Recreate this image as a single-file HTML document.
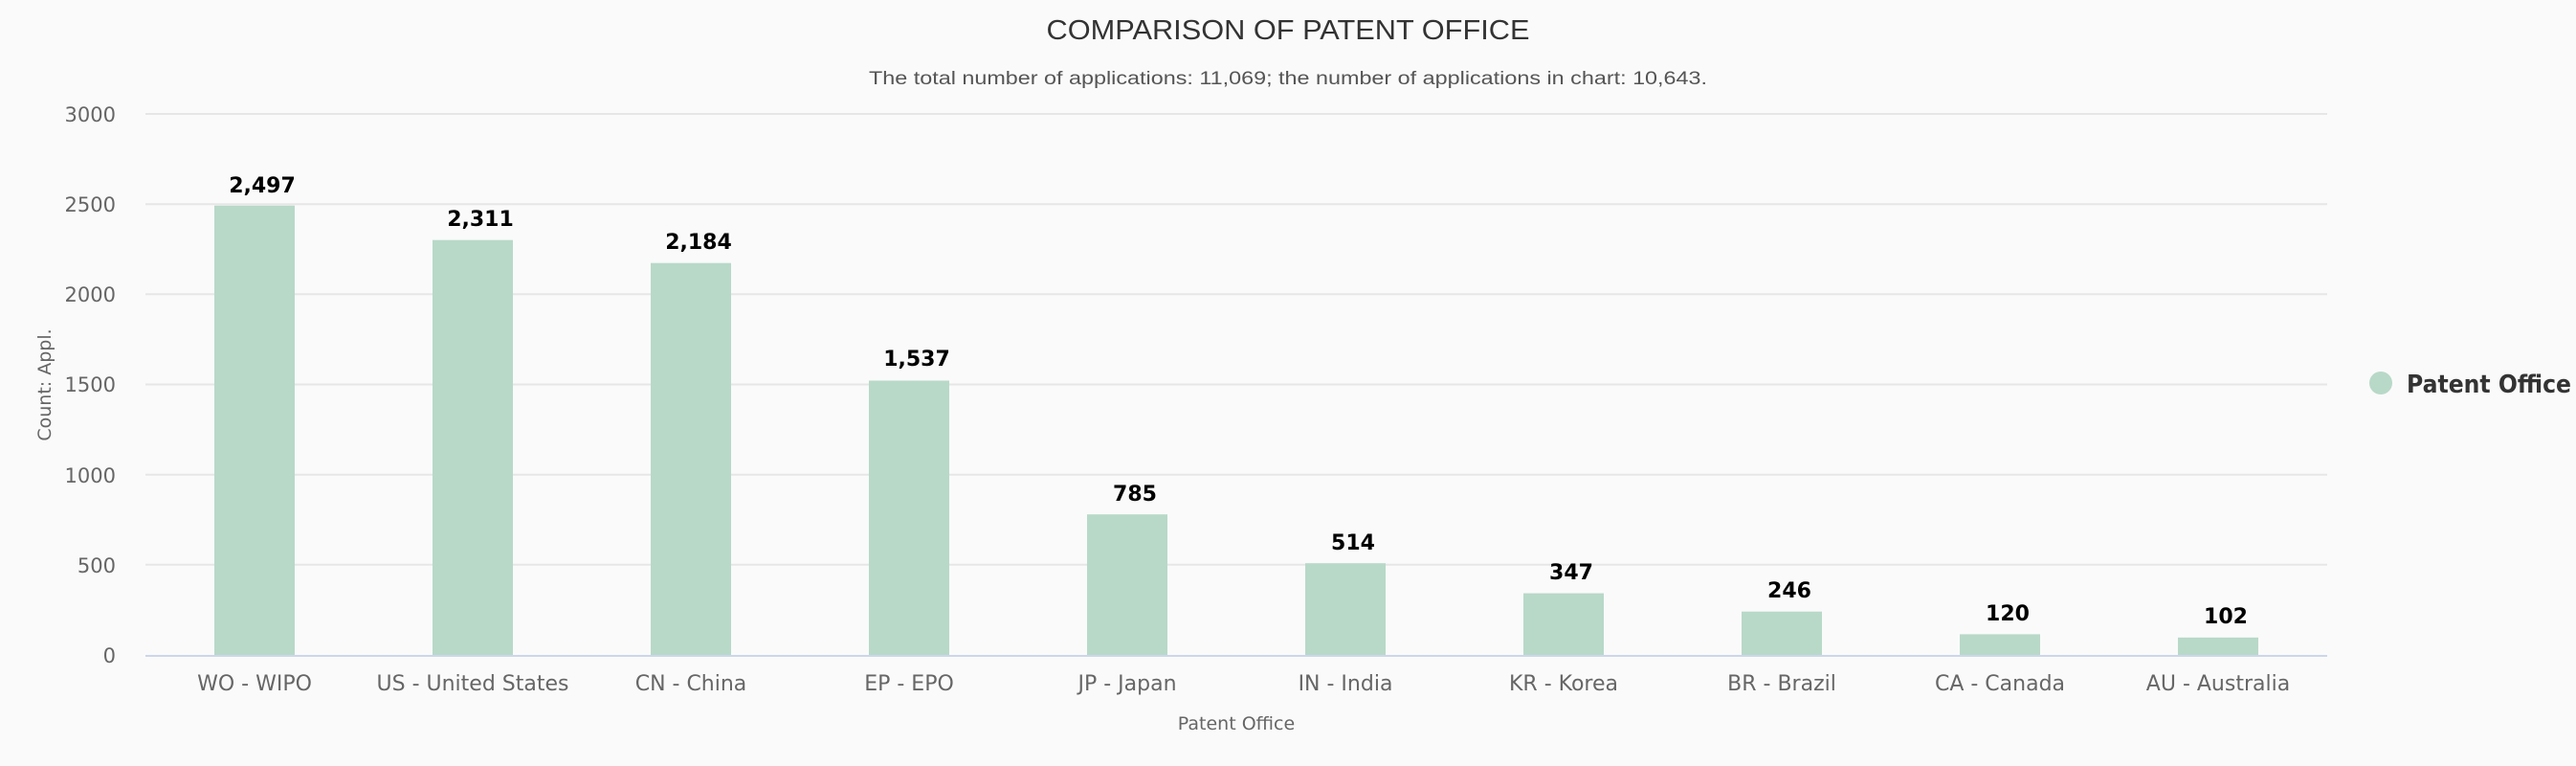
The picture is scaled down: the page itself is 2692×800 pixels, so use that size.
<!DOCTYPE html>
<html><head><meta charset="utf-8"><style>
html,body{margin:0;padding:0;background:#fafafa;}
svg{display:block;font-family:"DejaVu Sans","Liberation Sans",sans-serif;}
</style></head><body>
<svg width="2692" height="800" viewBox="0 0 2692 800" xmlns="http://www.w3.org/2000/svg">
<rect width="2692" height="800" fill="#fafafa"/>
<text x="1346" y="41" text-anchor="middle" font-family="Liberation Sans, sans-serif" font-size="29" fill="#333" textLength="505" lengthAdjust="spacingAndGlyphs">COMPARISON OF PATENT OFFICE</text>
<text x="1346" y="88" text-anchor="middle" font-family="Liberation Sans, sans-serif" font-size="19" fill="#555" textLength="876" lengthAdjust="spacingAndGlyphs">The total number of applications: 11,069; the number of applications in chart: 10,643.</text>
<g stroke="#e6e6e6" stroke-width="2">
<line x1="152" x2="2432" y1="119" y2="119"/>
<line x1="152" x2="2432" y1="213.2" y2="213.2"/>
<line x1="152" x2="2432" y1="307.3" y2="307.3"/>
<line x1="152" x2="2432" y1="401.5" y2="401.5"/>
<line x1="152" x2="2432" y1="495.7" y2="495.7"/>
<line x1="152" x2="2432" y1="589.8" y2="589.8"/>
</g>
<g font-size="21" fill="#666" text-anchor="end">
<text x="121" y="127">3000</text>
<text x="121" y="221">2500</text>
<text x="121" y="315">2000</text>
<text x="121" y="409">1500</text>
<text x="121" y="504">1000</text>
<text x="121" y="598">500</text>
<text x="121" y="692">0</text>
</g>
<text transform="translate(53,402) rotate(-90)" text-anchor="middle" font-size="19" fill="#666">Count: Appl.</text>
<g fill="#b8d9c8">
<rect x="224" y="214.7" width="84" height="469.3"/>
<rect x="452" y="250.7" width="84" height="433.3"/>
<rect x="680" y="274.7" width="84" height="409.3"/>
<rect x="908" y="397.5" width="84" height="286.5"/>
<rect x="1136" y="537.2" width="84" height="146.8"/>
<rect x="1364" y="588.2" width="84" height="95.8"/>
<rect x="1592" y="619.6" width="84" height="64.4"/>
<rect x="1820" y="638.7" width="84" height="45.3"/>
<rect x="2048" y="662.4" width="84" height="21.6"/>
<rect x="2276" y="665.8" width="84" height="18.2"/>
</g>
<line x1="152" x2="2432" y1="685" y2="685" stroke="#ccd6eb" stroke-width="2"/>
<g font-size="22" font-weight="bold" fill="#000" text-anchor="middle">
<text x="274" y="201">2,497</text>
<text x="502" y="236">2,311</text>
<text x="730" y="260">2,184</text>
<text x="958" y="382">1,537</text>
<text x="1186" y="523">785</text>
<text x="1414" y="574">514</text>
<text x="1642" y="605">347</text>
<text x="1870" y="624">246</text>
<text x="2098" y="648">120</text>
<text x="2326" y="651">102</text>
</g>
<g font-size="22" fill="#666" text-anchor="middle">
<text x="266" y="721">WO - WIPO</text>
<text x="494" y="721">US - United States</text>
<text x="722" y="721">CN - China</text>
<text x="950" y="721">EP - EPO</text>
<text x="1178" y="721">JP - Japan</text>
<text x="1406" y="721">IN - India</text>
<text x="1634" y="721">KR - Korea</text>
<text x="1862" y="721">BR - Brazil</text>
<text x="2090" y="721">CA - Canada</text>
<text x="2318" y="721">AU - Australia</text>
</g>
<text x="1292" y="762" text-anchor="middle" font-size="19" fill="#666">Patent Office</text>
<circle cx="2488" cy="400" r="12" fill="#b8d9c8"/>
<text x="2515" y="410" font-size="26" font-weight="bold" fill="#333" textLength="172" lengthAdjust="spacingAndGlyphs">Patent Office</text>
</svg>
</body></html>
